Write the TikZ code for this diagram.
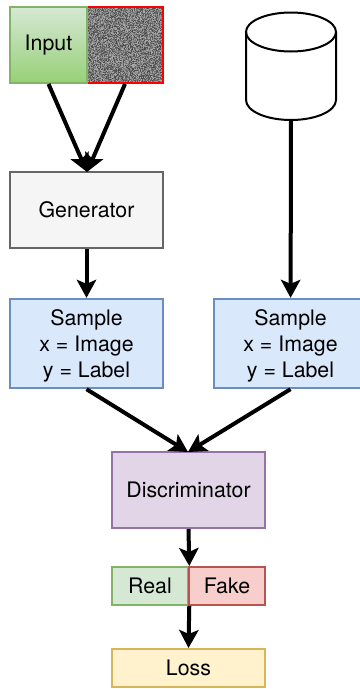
\documentclass[tikz,border=0pt]{standalone}
\usepackage{fontspec}
\setmainfont{TeX Gyre Heros}
\usetikzlibrary{arrows.meta}
\definecolor{inputtop}{HTML}{D5E8D4}
\definecolor{inputbot}{HTML}{97D077}
\definecolor{greenline}{HTML}{82B366}
\definecolor{greyfill}{HTML}{F5F5F5}
\definecolor{greyline}{HTML}{666666}
\definecolor{bluefill}{HTML}{DAE8FC}
\definecolor{blueline}{HTML}{6C8EBF}
\definecolor{purplefill}{HTML}{E1D5E7}
\definecolor{purpleline}{HTML}{9673A6}
\definecolor{redfill}{HTML}{F8CECC}
\definecolor{redline}{HTML}{B85450}
\definecolor{yellowfill}{HTML}{FFF2CC}
\definecolor{yellowline}{HTML}{D6B656}
\tikzset{
  box/.style={draw,line width=1.5pt,minimum width=114.75pt,inner sep=0pt,align=center,font=\fontsize{16}{19.5}\selectfont},
  halfbox/.style={box,minimum width=57.4pt},
  samplebox/.style={box,fill=bluefill,draw=blueline,minimum height=67pt,text height=54.5pt},
  link/.style={line width=3pt,-{Stealth[length=13.5pt,width=14.5pt,inset=3pt]}},
}
\begin{document}
\begin{tikzpicture}[x=0.75pt,y=-0.75pt]
\useasboundingbox (0,0) rectangle (360,689);
\clip (0,0) rectangle (360,689);
\pgfmathsetseed{7}
% noise
\foreach \i in {0,...,75} {
  \foreach \j in {0,...,75} {
    \pgfmathsetmacro{\shade}{int(32+random(0,40))}
    \fill[black!\shade] (87+\i,7+\j) rectangle ++(1.05,1.05);
  }
}
\node[box,draw=red,minimum width=57pt,minimum height=57pt] (noise) at (125,45) {};
\node[box,draw=greenline,top color=inputtop,bottom color=inputbot,minimum width=57.4pt,minimum height=57pt] (input) at (48.5,45) {Input};
\node[box,fill=greyfill,draw=greyline,minimum height=57pt] (generator) at (86.5,210) {Generator};
\node[samplebox] (sampleA) at (86.5,343.5) {Sample\\x = Image\\y = Label};
\node[samplebox] (sampleB) at (290.5,343.5) {Sample\\x = Image\\y = Label};
\node[box,fill=purplefill,draw=purpleline,minimum height=57pt] (discriminator) at (188.5,490) {Discriminator};
\node[halfbox,fill=inputtop,draw=greenline,minimum height=28.5pt] (real) at (150,586) {Real};
\node[halfbox,fill=redfill,draw=redline,minimum height=28.5pt] (fake) at (227,586) {Fake};
\node[box,fill=yellowfill,draw=yellowline,minimum height=28.5pt] (loss) at (188.5,668) {Loss};
% cylinder
\draw[line width=1.5pt] (246,32) arc[x radius=45,y radius=19.5,start angle=180,end angle=0]
  arc[x radius=45,y radius=19.5,start angle=0,end angle=-180] -- cycle;
\draw[line width=1.5pt] (246,32) -- (246,100) arc[x radius=45,y radius=20,start angle=180,end angle=0] -- (336,32);
\coordinate (store) at (291,120);
\coordinate (genin) at (87,172);
\coordinate (discin) at (188,452);
\draw[link] (input.south) -- (genin);
\draw[link] (noise.south) -- (genin);
\draw[link] (generator) -- (sampleA);
\draw[link] (store) -- (sampleB);
\draw[link] (sampleA.south) -- (discin);
\draw[link] (sampleB.south) -- (discin);
\draw[link] (discriminator.south) -- (real.north east);
\draw[link] (real.south east) -- (loss.north);
\end{tikzpicture}
\end{document}
